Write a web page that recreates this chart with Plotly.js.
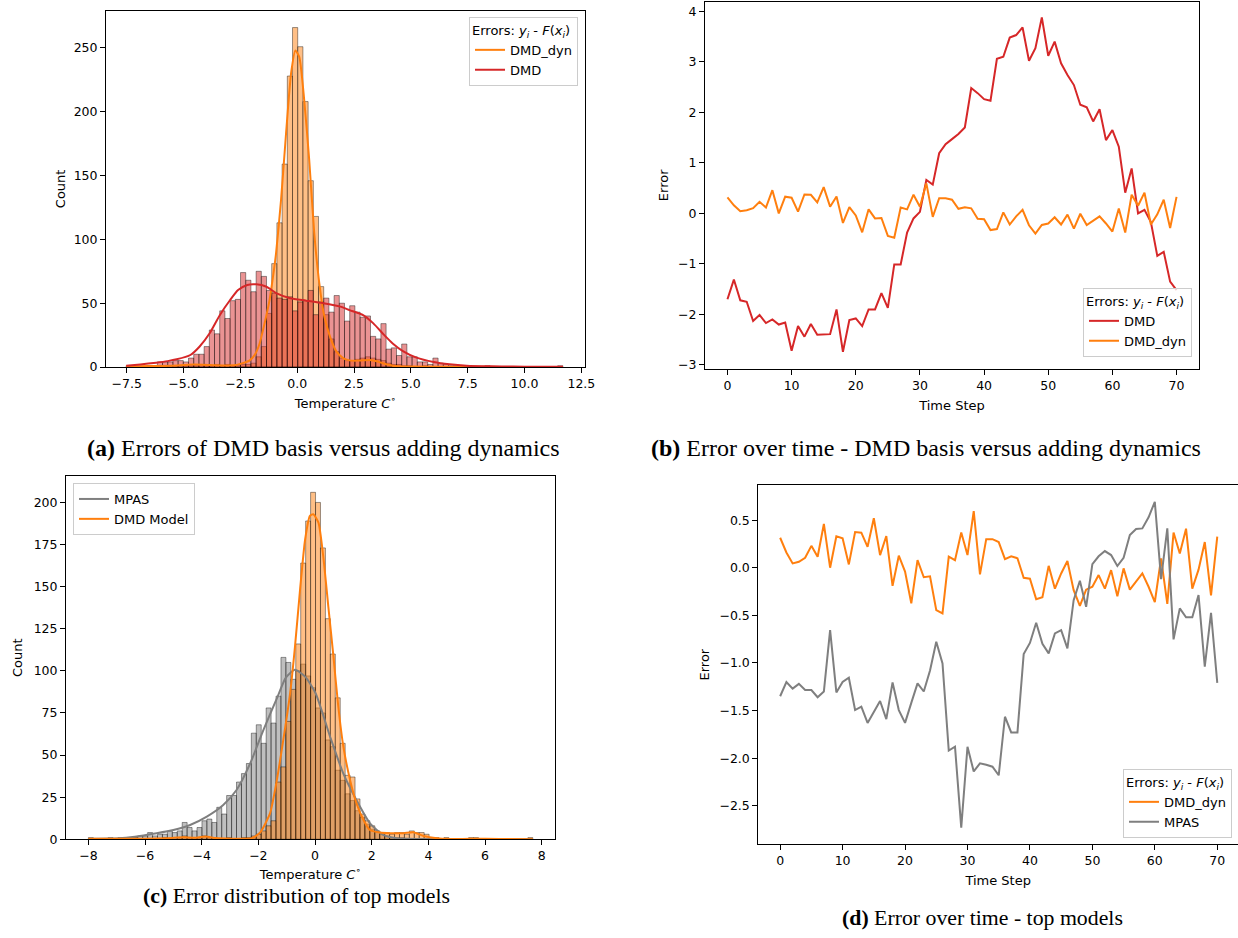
<!DOCTYPE html>
<html>
<head>
<meta charset="utf-8">
<script src="https://cdn.plot.ly/plotly-3.0.1.min.js"></script>
<style>
html,body{margin:0;padding:0;background:#ffffff;}
#chart{width:1238px;height:938px;}
</style>
</head>
<body>
<div id="chart"></div>
<script>
// ---------------- Panel (a): error histograms, DMD vs DMD_dyn ----------------
const aBinStart = -7.524;
const aBinWidth = 0.2287;
const aCountsDMD = [
  1,0,0,0,1,1,4,4,4,5,
  5,4,7,10,10,16,29,26,44,38,
  52,53,74,68,59,75,71,60,58,54,
  53,55,44,51,52,60,41,51,54,43,
  56,50,36,48,43,39,40,24,22,34,
  14,15,9,18,8,8,4,4,2,7,
  3,2,1,1,0,1,0,0,0,1,
  0,0,0,0,0,0,0,0,0,0,
  0,0,0,1
];
const aCountsDMDdyn = [
  0,0,0,0,0,1,0,1,0,1,
  0,1,1,1,2,2,1,2,1,2,
  1,1,2,2,3,8,16,42,81,113,
  159,228,266,251,208,146,118,63,41,22,
  12,7,5,5,6,7,8,7,6,5,
  3,2,2,1,1,0,0,1,0,0,
  0,0,0,0,0,0,0,0,0,0,
  0,0,0,0,0,0,0,0,0,0,
  0,0,0,0
];
const aKdeX_DMD = [-7.52,-6.9,-6.2,-5.7,-5.3,-4.7,-4.3,-3.85,-3.4,-2.95,-2.6,-2.2,-1.8,-1.35,-0.9,-0.3,0.4,1.15,1.9,2.3,2.9,3.35,3.8,4.2,4.65,5.25,6.0,6.7,7.45,8.5,9.5,10.5,11.69];
const aKdeY_DMD = [1.0,2.0,3.4,4.6,6.0,9.4,15.9,26.4,40.8,52.5,60.3,64.3,64.8,62.9,57.7,53.8,52.0,50.0,47.3,44.6,40.7,34.2,25.6,18.5,12.5,7.3,3.9,2.1,1.0,0.5,0.3,0.2,0.1];
const aKdeX_dyn = [-7.52,-6.5,-5.5,-4.8,-4.2,-3.6,-3.1,-2.7,-2.4,-2.1,-1.85,-1.66,-1.45,-1.22,-1.07,-0.93,-0.71,-0.49,-0.27,-0.08,0.09,0.31,0.53,0.75,0.97,1.19,1.44,1.73,2.02,2.3,2.61,2.9,3.2,3.5,3.77,4.2,5.0,6.5,8.0,10.0,11.69];
const aKdeY_dyn = [0.3,0.8,1.0,1.8,1.8,1.4,1.2,1.5,3,5,10,18,33,52,70,89,131,183,230,248,243,209,162,105,66,40,24,12,7,5.2,5,5.3,5.5,4.5,2.9,1.0,0.3,0.2,0.1,0.05,0];

// ---------------- Shared time series ----------------
const timeStep = [0,1,2,3,4,5,6,7,8,9,10,11,12,13,14,15,16,17,18,19,20,21,22,23,24,25,26,27,28,29,30,31,32,33,34,35,36,37,38,39,40,41,42,43,44,45,46,47,48,49,50,51,52,53,54,55,56,57,58,59,60,61,62,63,64,65,66,67,68,69,70];
const errDMD = [
  -1.70,-1.31,-1.72,-1.75,-2.13,-2.01,-2.17,-2.10,-2.20,-2.16,
  -2.72,-2.23,-2.44,-2.19,-2.40,-2.39,-2.39,-1.90,-2.74,-2.11,
  -2.08,-2.23,-1.90,-1.90,-1.58,-1.87,-1.01,-1.01,-0.38,-0.10,
  0.03,0.66,0.57,1.19,1.37,1.47,1.57,1.70,2.48,2.38,
  2.26,2.23,3.06,3.10,3.48,3.53,3.68,3.02,3.27,3.88,
  3.12,3.40,2.97,2.74,2.54,2.15,2.10,1.82,2.06,1.45,
  1.65,1.32,0.41,0.89,0.0,0.07,-0.17,-0.84,-0.76,-1.35,
  -1.52
];
const errDMDdyn = [
  0.315,0.16,0.045,0.063,0.105,0.23,0.116,0.46,0.0,0.33,
  0.31,0.035,0.375,0.368,0.22,0.52,0.133,0.333,-0.19,0.126,
  -0.04,-0.375,0.08,-0.10,-0.09,-0.445,-0.48,0.116,0.08,0.37,
  0.133,0.595,-0.07,0.30,0.30,0.27,0.09,0.12,0.10,-0.105,
  -0.115,-0.33,-0.31,0.02,-0.22,-0.06,0.07,-0.235,-0.40,-0.23,
  -0.20,-0.077,-0.22,-0.025,-0.30,-0.007,-0.23,-0.147,-0.06,-0.20,
  -0.36,0.098,-0.38,0.37,0.15,0.41,-0.22,-0.02,0.27,-0.29,
  0.326
];
const errMPAS = [
  -1.35,-1.20,-1.27,-1.22,-1.285,-1.285,-1.36,-1.30,-0.655,-1.31,
  -1.20,-1.155,-1.495,-1.46,-1.63,-1.51,-1.40,-1.59,-1.205,-1.495,
  -1.63,-1.42,-1.215,-1.30,-1.08,-0.777,-1.005,-1.92,-1.88,-2.73,
  -1.88,-2.14,-2.055,-2.07,-2.09,-2.18,-1.565,-1.73,-1.73,-0.907,
  -0.79,-0.578,-0.80,-0.90,-0.69,-0.655,-0.847,-0.34,-0.137,-0.41,
  0.038,0.12,0.175,0.133,0.018,0.105,0.343,0.406,0.413,0.53,
  0.693,-0.12,0.413,-0.753,-0.427,-0.52,-0.52,-0.287,-1.04,-0.473,
  -1.21
];

// ---------------- Panel (c): error distribution of top models ----------------
const cBinStart = -8.0;
const cBinWidth = 0.1743;
const cCountsMPAS = [
  1,0,0,0,1,0,1,0,1,1,
  2,2,4,2,3,3,5,4,5,10,
  7,5,7,11,12,10,19,15,26,26,
  34,39,45,63,68,57,78,69,85,108,
  105,95,100,104,97,90,78,75,59,55,
  41,35,27,23,17,13,9,6,4,3,
  2,1,1,1,0,0,0,0,0,0,
  0,0,0,0,0,0,0,0,0,0,
  0,0,0,0,0,0,0,0,0,0
];
const cCountsDMD = [
  0,0,0,0,0,0,0,0,0,1,
  0,0,0,0,0,1,0,0,1,2,
  1,1,1,2,1,1,0,0,1,0,
  0,1,1,2,3,5,8,11,34,43,
  70,89,116,164,189,206,200,173,131,110,
  84,57,38,37,24,15,11,8,5,4,
  4,3,4,4,3,5,4,4,3,1,
  1,0,1,0,0,0,0,1,1,0,
  0,0,0,0,0,0,0,0,0,1
];
const cKdeX_MPAS = [-8.0,-7.2,-6.8,-6.18,-5.59,-5.0,-4.41,-3.82,-3.24,-2.77,-2.29,-1.82,-1.35,-1.03,-0.71,-0.35,0.02,0.53,1.0,1.47,1.94,2.41,2.88,3.7,5.0,6.5,7.69];
const cKdeY_MPAS = [0.4,0.5,0.8,2.0,3.6,5.5,8.5,13.5,20.4,29.3,45,65,83.5,96,100.6,96.6,86.7,61,39,23,9.5,2.6,0.6,0.2,0.05,0.02,0];
const cKdeX_DMD = [-8.0,-7.0,-6.0,-5.2,-4.64,-4.25,-3.88,-3.5,-3.0,-2.5,-2.23,-1.94,-1.59,-1.35,-1.12,-0.88,-0.71,-0.53,-0.35,-0.18,-0.06,0.12,0.29,0.47,0.65,0.82,1.00,1.24,1.47,1.71,1.94,2.29,2.65,3.12,3.47,3.83,4.30,4.76,5.5,6.5,7.69];
const cKdeY_DMD = [0.3,0.3,0.4,0.7,1.2,0.9,1.6,0.8,0.4,0.3,0.6,4,15.4,35,59,86.7,114,148,178,192,193,188,168,138,108.5,79,55,35,21,11.5,5.5,4,3.6,3.6,4.2,2,0.6,0.2,0.3,0.2,0.1];

// ---------------- Tick values ----------------
const aTicksX = [-7.5,-5,-2.5,0,2.5,5,7.5,10,12.5];
const aTicksY = [0,50,100,150,200,250];
const bTicksX = [0,10,20,30,40,50,60,70];
const bTicksY = [-3,-2,-1,0,1,2,3,4];
const cTicksX = [-8,-6,-4,-2,0,2,4,6,8];
const cTicksY = [0,25,50,75,100,125,150,175,200];
const dTicksX = [0,10,20,30,40,50,60,70];
const dTicksY = [-2.5,-2.0,-1.5,-1.0,-0.5,0.0,0.5];

// ---------------- Styles ----------------
const C_ORANGE = '#ff7f0e', C_RED = '#d62728', C_GRAY = '#7f7f7f';
const FILL_ORANGE = 'rgba(255,127,14,0.5)', FILL_RED = 'rgba(214,39,40,0.5)', FILL_GRAY = 'rgba(127,127,127,0.5)';
const EDGE = {color:'rgba(0,0,0,0.5)', width:0.8};
const LEGEND_TITLE = 'Errors: <i>y<sub>i</sub></i> - <i>F</i>(<i>x<sub>i</sub></i>)';

function centers(counts, start, w){ return counts.map((_, i) => start + (i + 0.5) * w); }

const traces = [];
// Panel (a) bars
traces.push({type:'bar', x:centers(aCountsDMDdyn, aBinStart, aBinWidth), y:aCountsDMDdyn, width:aBinWidth,
  marker:{color:FILL_ORANGE, line:EDGE}, xaxis:'x', yaxis:'y', showlegend:false, hoverinfo:'skip'});
traces.push({type:'bar', x:centers(aCountsDMD, aBinStart, aBinWidth), y:aCountsDMD, width:aBinWidth,
  marker:{color:FILL_RED, line:EDGE}, xaxis:'x', yaxis:'y', showlegend:false, hoverinfo:'skip'});
traces.push({type:'scatter', mode:'lines', x:aKdeX_dyn, y:aKdeY_dyn, name:'DMD_dyn', line:{color:C_ORANGE, width:2, shape:'spline', smoothing:0.6},
  xaxis:'x', yaxis:'y', legend:'legend'});
traces.push({type:'scatter', mode:'lines', x:aKdeX_DMD, y:aKdeY_DMD, name:'DMD', line:{color:C_RED, width:2, shape:'spline', smoothing:0.6},
  xaxis:'x', yaxis:'y', legend:'legend'});
// Panel (b)
traces.push({type:'scatter', mode:'lines', x:timeStep, y:errDMD, name:'DMD', line:{color:C_RED, width:2},
  xaxis:'x2', yaxis:'y2', legend:'legend2'});
traces.push({type:'scatter', mode:'lines', x:timeStep, y:errDMDdyn, name:'DMD_dyn', line:{color:C_ORANGE, width:2},
  xaxis:'x2', yaxis:'y2', legend:'legend2'});
// Panel (c)
traces.push({type:'bar', x:centers(cCountsMPAS, cBinStart, cBinWidth), y:cCountsMPAS, width:cBinWidth,
  marker:{color:FILL_GRAY, line:EDGE}, xaxis:'x3', yaxis:'y3', showlegend:false, hoverinfo:'skip'});
traces.push({type:'bar', x:centers(cCountsDMD, cBinStart, cBinWidth), y:cCountsDMD, width:cBinWidth,
  marker:{color:FILL_ORANGE, line:EDGE}, xaxis:'x3', yaxis:'y3', showlegend:false, hoverinfo:'skip'});
traces.push({type:'scatter', mode:'lines', x:cKdeX_MPAS, y:cKdeY_MPAS, name:'MPAS', line:{color:C_GRAY, width:2, shape:'spline', smoothing:0.6},
  xaxis:'x3', yaxis:'y3', legend:'legend3'});
traces.push({type:'scatter', mode:'lines', x:cKdeX_DMD, y:cKdeY_DMD, name:'DMD Model', line:{color:C_ORANGE, width:2, shape:'spline', smoothing:0.6},
  xaxis:'x3', yaxis:'y3', legend:'legend3'});
// Panel (d)
traces.push({type:'scatter', mode:'lines', x:timeStep, y:errDMDdyn, name:'DMD_dyn', line:{color:C_ORANGE, width:2},
  xaxis:'x4', yaxis:'y4', legend:'legend4'});
traces.push({type:'scatter', mode:'lines', x:timeStep, y:errMPAS, name:'MPAS', line:{color:C_GRAY, width:2},
  xaxis:'x4', yaxis:'y4', legend:'legend4'});

const TICKFONT = {family:'DejaVu Sans', size:12.5, color:'#000'};
const TITLEFONT = {family:'DejaVu Sans', size:13, color:'#000'};
function ax(extra){
  return Object.assign({showline:true, linecolor:'#000', linewidth:1, mirror:true, ticks:'outside', ticklen:5, tickwidth:1,
    tickcolor:'#000', showgrid:false, zeroline:false, tickfont:TICKFONT, automargin:false, fixedrange:true}, extra);
}
function legendBox(extra){
  return Object.assign({bgcolor:'rgba(255,255,255,0.8)', bordercolor:'#cccccc', borderwidth:1,
    font:{family:'DejaVu Sans', size:13, color:'#000'}, tracegroupgap:0, itemwidth:30}, extra);
}
const CAPFONT_TOP = {family:'Liberation Serif', size:24, color:'#000'};
const CAPFONT_BOT = {family:'Liberation Serif', size:21.8, color:'#000'};

const layout = {
  width:1238, height:938,
  margin:{l:0, r:0, t:0, b:0, pad:0},
  paper_bgcolor:'#ffffff', plot_bgcolor:'#ffffff',
  barmode:'overlay', bargap:0,
  showlegend:true,
  xaxis: ax({domain:[0.08562,0.47254], range:[-8.41,12.66], anchor:'y', tickvals:aTicksX, tickformat:'.1f',
    title:{text:'Temperature <i>C</i><sup>∘</sup>', font:TITLEFONT, standoff:8}}),
  yaxis: ax({domain:[0.60874,0.98859], range:[0,279.2], anchor:'x', tickvals:aTicksY,
    title:{text:'Count', font:TITLEFONT, standoff:5}}),
  xaxis2: ax({domain:[0.56947,0.96850], range:[-3.5,73.5], anchor:'y2', tickvals:bTicksX,
    title:{text:'Time Step', font:TITLEFONT, standoff:8}}),
  yaxis2: ax({domain:[0.60661,0.99819], range:[-3.08,4.19], anchor:'x2', tickvals:bTicksY,
    title:{text:'Error', font:TITLEFONT, standoff:6}}),
  xaxis3: ax({domain:[0.05331,0.44830], range:[-8.79,8.47], anchor:'y3', tickvals:cTicksX,
    title:{text:'Temperature <i>C</i><sup>∘</sup>', font:TITLEFONT, standoff:7}}),
  yaxis3: ax({domain:[0.10522,0.49254], range:[0,215.7], anchor:'x3', tickvals:cTicksY,
    title:{text:'Count', font:TITLEFONT, standoff:8}}),
  xaxis4: ax({domain:[0.61252,1.0], range:[-3.5,73.32], anchor:'y4', tickvals:dTicksX,
    title:{text:'Time Step', font:TITLEFONT, standoff:8}}),
  yaxis4: ax({domain:[0.09989,0.48294], range:[-2.905,0.869], anchor:'x4', tickvals:dTicksY, tickformat:'.1f', mirror:false,
    title:{text:'Error', font:TITLEFONT, standoff:6}}),
  legend: legendBox({x:0.4669, y:0.98188, xanchor:'right', yanchor:'top', title:{text:LEGEND_TITLE, font:{family:'DejaVu Sans', size:13, color:'#000'}}}),
  legend2: legendBox({x:0.96284, y:0.61940, xanchor:'right', yanchor:'bottom', title:{text:LEGEND_TITLE, font:{family:'DejaVu Sans', size:13, color:'#000'}}}),
  legend3: legendBox({x:0.05897, y:0.48507, xanchor:'left', yanchor:'top'}),
  legend4: legendBox({x:0.99515, y:0.10661, xanchor:'right', yanchor:'bottom', title:{text:LEGEND_TITLE, font:{family:'DejaVu Sans', size:13, color:'#000'}}}),
  annotations:[
    {xref:'paper', yref:'paper', x:323/1238, y:1-448/938, xanchor:'center', yanchor:'middle', showarrow:false,
     text:'<b>(a)</b> Errors of DMD basis versus adding dynamics', font:CAPFONT_TOP},
    {xref:'paper', yref:'paper', x:926/1238, y:1-448/938, xanchor:'center', yanchor:'middle', showarrow:false,
     text:'<b>(b)</b> Error over time - DMD basis versus adding dynamics', font:CAPFONT_TOP},
    {xref:'paper', yref:'paper', x:296/1238, y:1-896/938, xanchor:'center', yanchor:'middle', showarrow:false,
     text:'<b>(c)</b> Error distribution of top models', font:CAPFONT_BOT},
    {xref:'paper', yref:'paper', x:982/1238, y:1-918/938, xanchor:'center', yanchor:'middle', showarrow:false,
     text:'<b>(d)</b> Error over time - top models', font:CAPFONT_BOT}
  ]
};

Plotly.newPlot('chart', traces, layout, {staticPlot:true, displayModeBar:false});
</script>
</body>
</html>
